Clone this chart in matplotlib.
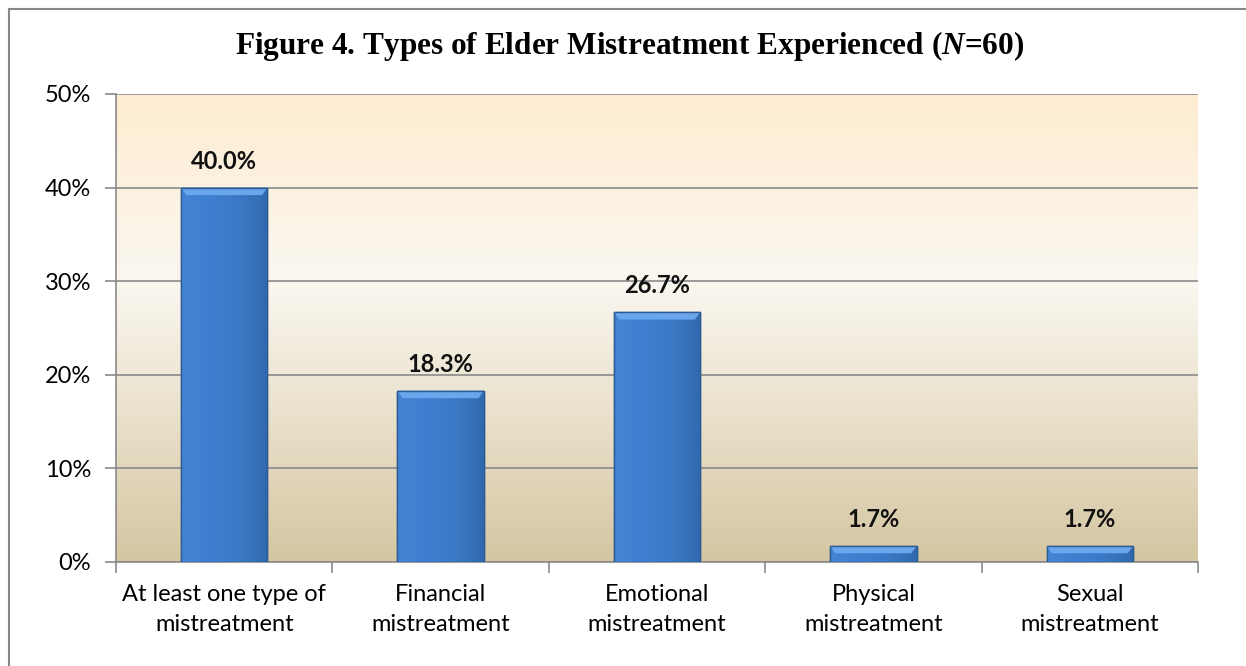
import numpy as np
import matplotlib.pyplot as plt
from matplotlib.colors import LinearSegmentedColormap
from matplotlib.patches import Rectangle

categories = ["At least one type of\nmistreatment", "Financial\nmistreatment",
              "Emotional\nmistreatment", "Physical\nmistreatment", "Sexual\nmistreatment"]
values = [40.0, 18.3, 26.7, 1.7, 1.7]
yticks = [0, 10, 20, 30, 40, 50]

plt.rcParams["mathtext.fontset"] = "custom"
plt.rcParams["mathtext.it"] = "Liberation Serif:italic:bold"
plt.rcParams["mathtext.rm"] = "Liberation Serif:bold"

fig = plt.figure(figsize=(12.46, 6.66), dpi=100)
ax = fig.add_axes([116/1246, 104/666, 1082/1246, 468/666])

# outer chart border (only top and left are inside the picture)
fig.patches.append(Rectangle((9/1246, -0.1), 1.2, (657+66.6)/666, transform=fig.transFigure,
                             fill=False, edgecolor="#888888", linewidth=1.5, zorder=0))

x = np.arange(len(categories))
ax.set_xlim(-0.5, len(categories) - 0.5)
ax.set_ylim(0, 50)

# background gradient of the plot area
bg = LinearSegmentedColormap.from_list("bg", [(0, "#d5c6a2"), (0.3, "#e9e0ca"),
                                              (0.6, "#faf7f0"), (1, "#feecd0")])
grad = np.linspace(0, 1, 256).reshape(-1, 1)
ax.imshow(grad, cmap=bg, aspect="auto", origin="lower",
          extent=(-0.5, len(categories) - 0.5, 0, 50), zorder=0)

ax.yaxis.grid(True, color="#8a8a8a", linewidth=1.2, zorder=1)
ax.set_axisbelow(True)

bars = ax.bar(x, values, width=0.4, color="#3f7fcf", edgecolor="#2b5a94", linewidth=1, zorder=3)

# horizontal shading + bevel on bars
shade = LinearSegmentedColormap.from_list("sh", ["#4484d3", "#3f7fcf", "#3b79c6", "#3169ae"])
hgrad = np.linspace(0, 1, 64).reshape(1, -1)
for b, v in zip(bars, values):
    x0, w = b.get_x(), b.get_width()
    im = ax.imshow(hgrad, cmap=shade, aspect="auto", extent=(x0, x0 + w, 0, v), zorder=3.5)
    im.set_clip_path(b)
    bev = min(0.8, v * 0.45)
    ax.add_patch(plt.Polygon([[x0, v], [x0 + w, v], [x0 + w - 0.025, v - bev], [x0 + 0.025, v - bev]],
                             closed=True, facecolor="#6aa6ec", edgecolor="none", zorder=4))
    ax.add_patch(Rectangle((x0, 0), w, v, fill=False, edgecolor="#2b5a94", linewidth=1, zorder=4.5))
    ax.text(b.get_x() + w / 2, v + 1.6, f"{v:.1f}%", ha="center", va="bottom",
            fontsize=17, fontweight="bold", family="Lato", color="#111111")

ax.set_yticks(yticks)
ax.set_yticklabels([f"{t}%" for t in yticks], fontsize=17, family="Lato")
ax.set_xticks(x)
ax.set_xticklabels(categories, fontsize=17, family="Lato", linespacing=1.5)
ax.set_xticks(np.arange(-0.5, len(categories)), minor=True)
ax.tick_params(axis="x", which="major", length=0, pad=16)
ax.tick_params(axis="x", which="minor", length=8, color="#8a8a8a", width=1.2)
ax.tick_params(axis="y", length=8, color="#8a8a8a", width=1.2, pad=10)

for s in ["top", "right"]:
    ax.spines[s].set_visible(False)
for s in ["left", "bottom"]:
    ax.spines[s].set_color("#8a8a8a")
    ax.spines[s].set_linewidth(1.2)

fig.text(630/1246, 1 - 46/666, r"Figure 4. Types of Elder Mistreatment Experienced ($\mathit{N}$=60)",
         ha="center", va="center", fontsize=22.5, fontweight="bold", family="Liberation Serif")

fig.savefig("out.png", dpi=100)
